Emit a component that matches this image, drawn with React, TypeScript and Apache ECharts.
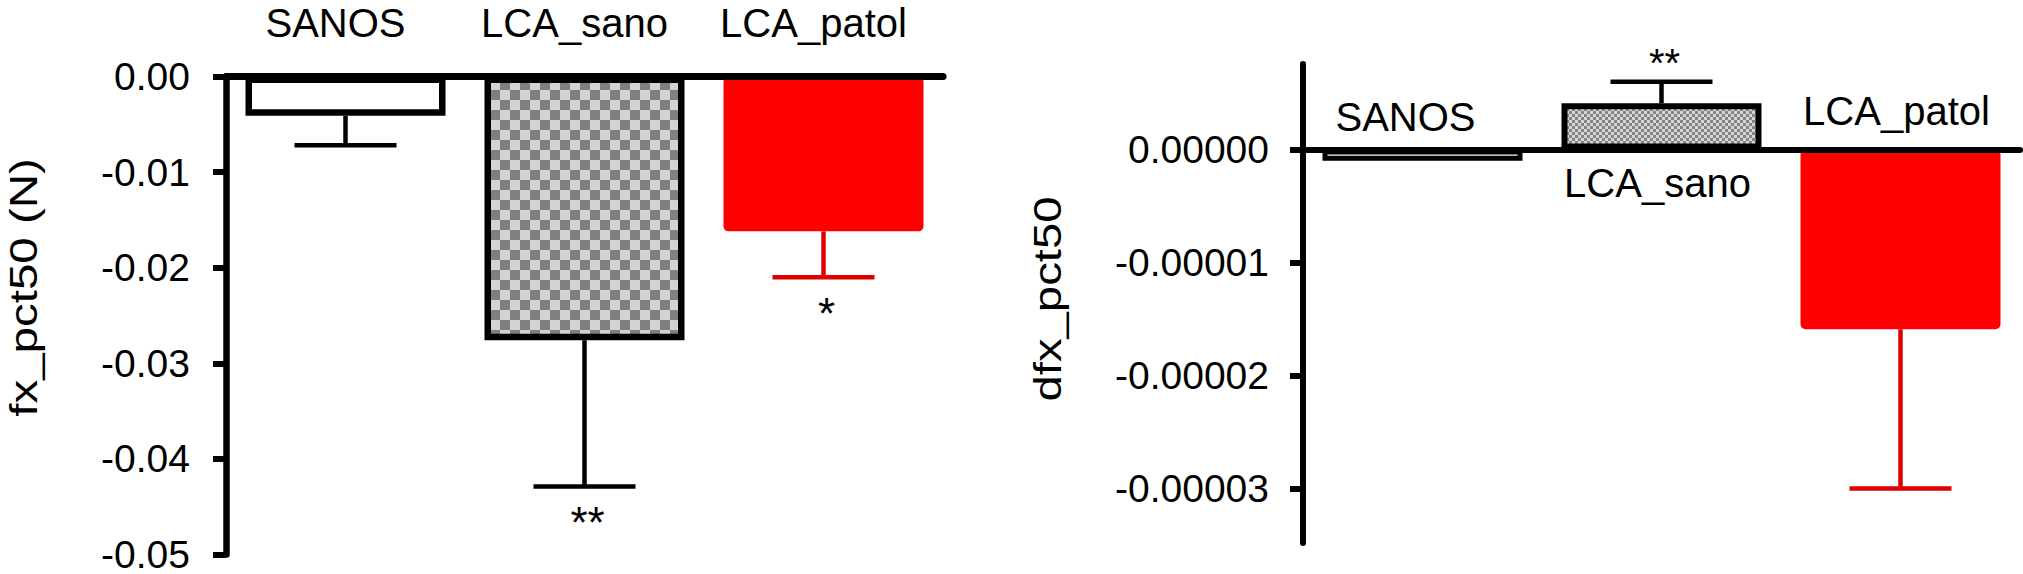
import React, { useEffect, useRef } from 'react';
import * as echarts from 'echarts';

// ---------- data ----------
const categories = ['SANOS', 'LCA_sano', 'LCA_patol'];

// left panel: fx_pct50 (N)
const fxMean = [-0.0041, -0.0276, -0.0162];
const fxErrEnd = [-0.0072, -0.0429, -0.021];
const fxSig = ['', '**', '*'];
const fxTicks = [0, -0.01, -0.02, -0.03, -0.04, -0.05];

// right panel: dfx_pct50
const dfxMean = [-0.000001, 0.0000041, -0.0000159];
const dfxErrEnd = [-0.000001, 0.000006, -0.00003];
const dfxSig = ['', '**', ''];
const dfxTicks = [0, -0.00001, -0.00002, -0.00003];

const FONT = '"Liberation Sans", Arial, Helvetica, sans-serif';

function checker(size: number, light: string, dark: string) {
  const c = document.createElement('canvas');
  c.width = size * 2;
  c.height = size * 2;
  const ctx = c.getContext('2d') as CanvasRenderingContext2D;
  ctx.fillStyle = light;
  ctx.fillRect(0, 0, size * 2, size * 2);
  ctx.fillStyle = dark;
  ctx.fillRect(0, 0, size, size);
  ctx.fillRect(size, size, size, size);
  return { image: c.toDataURL(), repeat: 'repeat', imageWidth: size * 2, imageHeight: size * 2 };
}

function textStyle(text: string, size: number) {
  return {
    text,
    fill: '#000000',
    font: `${size}px ${FONT}`,
    align: 'center',
    verticalAlign: 'middle',
    textAlign: 'center',
    textVerticalAlign: 'middle',
  };
}

function errorSeries(
  axisIndex: number,
  means: number[],
  ends: number[],
  sig: string[],
  colors: string[],
  starFont: number,
  starOffset: number
) {
  return {
    type: 'custom',
    xAxisIndex: axisIndex,
    yAxisIndex: axisIndex,
    z: 4,
    silent: true,
    encode: { x: 0, y: [1, 2] },
    data: categories.map((_, i) => [i, means[i], ends[i]]),
    renderItem: (params: any, api: any) => {
      const i = api.value(0);
      const m = api.value(1);
      const e = api.value(2);
      const p0 = api.coord([i, m]);
      const p1 = api.coord([i, e]);
      const col = colors[i];
      const dir = e < 0 ? 1 : -1;
      const children: any[] = [];
      if (Math.abs(p1[1] - p0[1]) > 1) {
        children.push({
          type: 'line',
          shape: { x1: p0[0], y1: p0[1], x2: p1[0], y2: p1[1] },
          style: { stroke: col, lineWidth: 4.5 },
        });
        children.push({
          type: 'line',
          shape: { x1: p1[0] - 51, y1: p1[1], x2: p1[0] + 51, y2: p1[1] },
          style: { stroke: col, lineWidth: 4.5 },
        });
      }
      if (sig[i]) {
        children.push({
          type: 'text',
          x: p1[0] + 3,
          y: p1[1] + dir * starOffset,
          style: textStyle(sig[i], starFont),
        });
      }
      return { type: 'group', children };
    },
  };
}

export default function App() {
  const ref = useRef<HTMLDivElement>(null);

  useEffect(() => {
    if (!ref.current) return;
    const chart = echarts.init(ref.current, undefined, { renderer: 'svg' });

    const leftStyles = [
      { color: '#ffffff', borderColor: '#000000', borderWidth: 6.5 },
      { color: checker(10, '#d3d3d3', '#808080'), borderColor: '#000000', borderWidth: 6.5 },
      { color: '#ff0000', borderColor: '#ff0000', borderWidth: 6, borderRadius: 2 },
    ];
    const rightStyles = [
      { color: '#ffffff', borderColor: '#000000', borderWidth: 5 },
      { color: checker(3, '#d6d6d6', '#858585'), borderColor: '#000000', borderWidth: 6 },
      { color: '#ff0000', borderColor: '#ff0000', borderWidth: 6, borderRadius: 2 },
    ];
    // offsets of the right panel's category names from the zero line
    const rightLabelDy = [-33, 33.5, -38.5];
    const rightLabelDx = [-17, -4, -4];

    const axisLabelStyle = { color: '#000', fontSize: 39, lineHeight: 30, fontFamily: FONT };

    chart.setOption({
      animation: false,
      backgroundColor: '#ffffff',
      grid: [
        { left: 226, top: 76.5, width: 717, height: 478.5, containLabel: false },
        { left: 1303, top: 64, width: 717, height: 479, containLabel: false },
      ],
      xAxis: [
        {
          type: 'category',
          gridIndex: 0,
          data: categories,
          position: 'top',
          z: 10,
          axisLine: { show: true, onZero: false, lineStyle: { color: '#000', width: 7 } },
          axisTick: { show: false },
          axisLabel: {
            show: true,
            interval: 0,
            margin: 34,
            padding: [0, 20, 0, 0],
            color: '#000',
            fontSize: 40,
            fontFamily: FONT,
          },
          splitLine: { show: false },
        },
        {
          type: 'category',
          gridIndex: 1,
          data: categories,
          z: 10,
          axisLine: { show: true, onZero: true, lineStyle: { color: '#000', width: 6 } },
          axisTick: { show: false },
          axisLabel: { show: false },
          splitLine: { show: false },
        },
      ],
      yAxis: [
        {
          type: 'value',
          gridIndex: 0,
          min: fxTicks[fxTicks.length - 1],
          max: fxTicks[0],
          interval: 0.01,
          z: 10,
          axisLine: { show: true, lineStyle: { color: '#000', width: 6.5 } },
          axisTick: { show: true, length: 13, lineStyle: { color: '#000', width: 6 } },
          axisLabel: {
            ...axisLabelStyle,
            margin: 36,
            formatter: (v: number) => (Math.abs(v) < 1e-12 ? '0.00' : v.toFixed(2)),
          },
          splitLine: { show: false },
        },
        {
          type: 'value',
          gridIndex: 1,
          min: -0.00003482,
          max: 0.00000757,
          z: 10,
          axisLine: { show: true, onZero: false, lineStyle: { color: '#000', width: 6 } },
          axisTick: {
            show: true,
            length: 13,
            customValues: dfxTicks,
            lineStyle: { color: '#000', width: 6 },
          },
          axisLabel: {
            ...axisLabelStyle,
            margin: 34,
            customValues: dfxTicks,
            formatter: (v: number) => (Math.abs(v) < 1e-12 ? '0.00000' : v.toFixed(5)),
          },
          splitLine: { show: false },
        },
      ],
      graphic: [
        {
          type: 'text',
          x: 24,
          y: 287.5,
          rotation: Math.PI / 2,
          scaleX: 1.25,
          style: textStyle('fx_pct50 (N)', 38),
        },
        {
          type: 'text',
          x: 1048,
          y: 299,
          rotation: Math.PI / 2,
          scaleX: 1.245,
          style: textStyle('dfx_pct50', 38),
        },
      ],
      series: [
        {
          type: 'bar',
          xAxisIndex: 0,
          yAxisIndex: 0,
          barWidth: 200,
          z: 2,
          data: fxMean.map((v, i) => ({ value: v, itemStyle: leftStyles[i] })),
        },
        {
          type: 'bar',
          xAxisIndex: 1,
          yAxisIndex: 1,
          barWidth: 200,
          z: 2,
          data: dfxMean.map((v, i) => ({ value: v, itemStyle: rightStyles[i] })),
        },
        errorSeries(0, fxMean, fxErrEnd, fxSig, ['#000', '#000', '#e00000'], 44, 36),
        errorSeries(1, dfxMean, dfxErrEnd, dfxSig, ['#000', '#000', '#e00000'], 40, 19),
        {
          type: 'custom',
          xAxisIndex: 1,
          yAxisIndex: 1,
          z: 6,
          silent: true,
          encode: { x: 0, y: 1 },
          data: categories.map((_, i) => [i, 0]),
          renderItem: (params: any, api: any) => {
            const i = api.value(0);
            const p = api.coord([i, 0]);
            return {
              type: 'text',
              x: p[0] + rightLabelDx[i],
              y: p[1] + rightLabelDy[i],
              style: textStyle(categories[i], 40),
            };
          },
        },
      ],
    });

    return () => {
      chart.dispose();
    };
  }, []);

  return (
    <div
      ref={ref}
      style={{ position: 'fixed', left: 0, top: 0, width: 2023, height: 574, background: '#fff' }}
    />
  );
}
